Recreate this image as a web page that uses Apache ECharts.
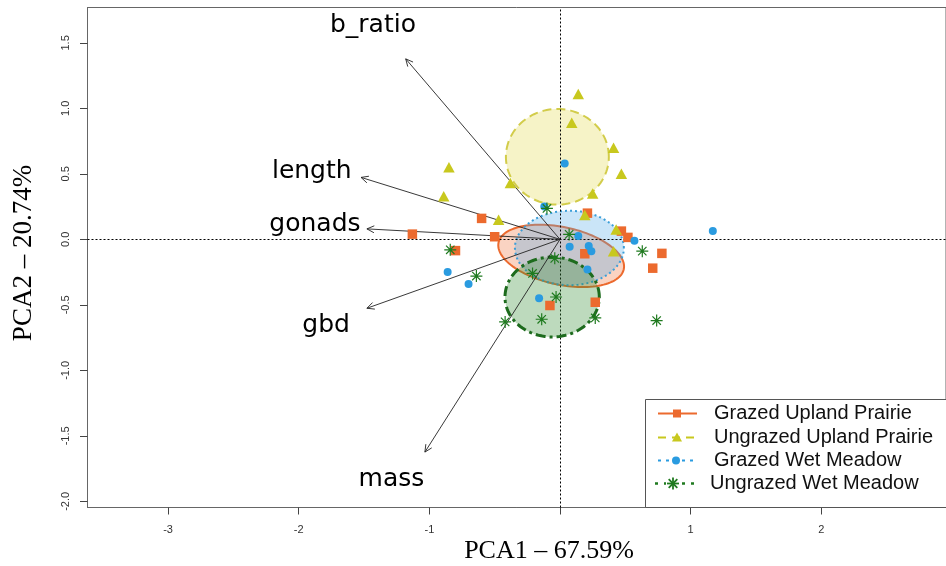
<!DOCTYPE html>
<html><head><meta charset="utf-8">
<script src="https://cdn.jsdelivr.net/npm/echarts@6/dist/echarts.min.js"></script>
<style>html,body{margin:0;padding:0;background:#fff}#c{width:946px;height:566px}</style>
</head><body><div id="c"></div>
<script>
// ---- data ----
const groups = ['Grazed Upland Prairie', 'Ungrazed Upland Prairie', 'Grazed Wet Meadow', 'Ungrazed Wet Meadow'];
const gupX = [0.21, -0.60, -1.13, -0.50, -0.80, 0.47, 0.52, 0.19, 0.78, 0.71, 0.27, -0.077];
const gupY = [0.20, 0.16, 0.04, 0.02, -0.086, 0.063, 0.015, -0.11, -0.107, -0.22, -0.48, -0.505];
const uupX = [0.14, 0.09, 0.41, 0.47, 0.25, -0.85, -0.89, -0.38, -0.47, 0.19, 0.43, 0.41];
const uupY = [1.11, 0.89, 0.70, 0.50, 0.35, 0.55, 0.33, 0.43, 0.15, 0.185, 0.076, -0.09];
const gwmX = [0.036, -0.12, 0.14, 0.074, 0.22, 0.24, 0.57, 1.17, 0.21, -0.86, -0.70, -0.16];
const gwmY = [0.58, 0.25, 0.025, -0.056, -0.05, -0.09, -0.01, 0.063, -0.23, -0.25, -0.34, -0.45];
const uwmX = [-0.10, 0.07, -0.84, 0.63, -0.04, -0.21, -0.64, -0.03, -0.42, -0.14, 0.27, 0.74];
const uwmY = [0.236, 0.038, -0.08, -0.09, -0.145, -0.26, -0.28, -0.44, -0.63, -0.61, -0.60, -0.62];

// confidence ellipses (order as groups)
const ellCx = [0.009, -0.02, 0.072, -0.06];
const ellCy = [-0.126, 0.63, -0.066, -0.44];
const ellRx = [0.49, 0.394, 0.417, 0.361];
const ellRy = [0.22, 0.365, 0.284, 0.305];
const ellAngle = [-12, 0, 0, 0];

// loadings
const loadNames = ['b_ratio', 'length', 'gonads', 'gbd', 'mass'];
const loadX = [-1.181, -1.523, -1.478, -1.478, -1.034];
const loadY = [1.378, 0.473, 0.080, -0.526, -1.624];
const loadLabelX = [-1.432, -1.90, -1.876, -1.79, -1.29];
const loadLabelY = [1.63, 0.52, 0.117, -0.66, -1.83];

const xTicks = [-3, -2, -1, 0, 1, 2];
const xTickLabels = [-3, -2, -1, 1, 2];
const yTicks = [-2, -1.5, -1, -0.5, 0, 0.5, 1, 1.5];

// ---- styles ----
const cOrange = '#ec6a2e', cYellow = '#c8c81e', cBlue = '#2a9be0', cGreen = '#1f7a1f';
const ellStyles = [
  {fill: 'rgba(238,118,66,0.32)', stroke: '#ec6a2e', lineWidth: 2, lineDash: null},
  {fill: 'rgba(224,216,70,0.30)', stroke: '#d2cc4a', lineWidth: 2, lineDash: [9, 5]},
  {fill: 'rgba(80,168,232,0.30)', stroke: '#3a9ed8', lineWidth: 2, lineDash: [2, 3]},
  {fill: 'rgba(50,140,50,0.32)', stroke: '#1d6b1d', lineWidth: 3, lineDash: [10, 4, 3, 4]}
];
const zip = (a, b) => a.map((v, i) => [v, b[i]]);
const asterisk = 'path://M10,0L10,20M0,10L20,10M3,3L17,17M3,17L17,3';

function ellipseSeries(i) {
  return {
    type: 'custom', coordinateSystem: 'cartesian2d', silent: true, z: 2 + i,
    data: [[ellCx[i], ellCy[i], ellRx[i], ellRy[i], ellAngle[i]]],
    encode: {x: 0, y: 1},
    renderItem: function (params, api) {
      const cx = api.value(0), cy = api.value(1), rx = api.value(2), ry = api.value(3);
      const a = api.value(4) * Math.PI / 180;
      const pts = [];
      for (let k = 0; k <= 120; k++) {
        const t = 2 * Math.PI * k / 120;
        const dx = rx * Math.cos(t), dy = ry * Math.sin(t);
        pts.push(api.coord([cx + dx * Math.cos(a) - dy * Math.sin(a), cy + dx * Math.sin(a) + dy * Math.cos(a)]));
      }
      const s = ellStyles[i];
      return {type: 'polygon', shape: {points: pts}, style: {fill: s.fill, stroke: s.stroke, lineWidth: s.lineWidth, lineDash: s.lineDash}};
    }
  };
}

const arrowSeries = {
  type: 'custom', coordinateSystem: 'cartesian2d', silent: true, z: 8,
  data: zip(loadX, loadY), encode: {x: 0, y: 1},
  renderItem: function (params, api) {
    const o = api.coord([0, 0]);
    const p = api.coord([api.value(0), api.value(1)]);
    const ang = Math.atan2(p[1] - o[1], p[0] - o[0]);
    const L = 8, w = Math.PI / 7;
    const h1 = [p[0] - L * Math.cos(ang - w), p[1] - L * Math.sin(ang - w)];
    const h2 = [p[0] - L * Math.cos(ang + w), p[1] - L * Math.sin(ang + w)];
    const st = {stroke: '#222', lineWidth: 0.9};
    return {type: 'group', children: [
      {type: 'line', shape: {x1: o[0], y1: o[1], x2: p[0], y2: p[1]}, style: st},
      {type: 'line', shape: {x1: p[0], y1: p[1], x2: h1[0], y2: h1[1]}, style: st},
      {type: 'line', shape: {x1: p[0], y1: p[1], x2: h2[0], y2: h2[1]}, style: st}
    ]};
  }
};

const labelSeries = {
  type: 'scatter', silent: true, z: 9, symbolSize: 1, itemStyle: {opacity: 0},
  data: loadNames.map((n, i) => ({name: n, value: [loadLabelX[i], loadLabelY[i]]})),
  label: {show: true, position: 'inside', opacity: 1, formatter: p => p.name, fontFamily: 'DejaVu Sans', fontSize: 25, color: '#000'}
};

const pointSeries = [
  {name: groups[0], type: 'scatter', z: 10, symbol: 'rect', symbolSize: 9.5, data: zip(gupX, gupY), itemStyle: {color: cOrange, opacity: 1}},
  {name: groups[1], type: 'scatter', z: 10, symbol: 'triangle', symbolSize: [11.5, 10.5], data: zip(uupX, uupY), itemStyle: {color: cYellow, opacity: 1}},
  {name: groups[2], type: 'scatter', z: 10, symbol: 'circle', symbolSize: 8, data: zip(gwmX, gwmY), itemStyle: {color: cBlue, opacity: 1}},
  {name: groups[3], type: 'scatter', z: 10, symbol: asterisk, symbolSize: 12, data: zip(uwmX, uwmY), itemStyle: {color: 'rgba(0,0,0,0)', borderColor: cGreen, borderWidth: 1.2, opacity: 1}}
];

const refLines = {
  type: 'line', data: [], silent: true, z: 1,
  markLine: {silent: true, symbol: 'none', label: {show: false},
    lineStyle: {color: '#000', type: [2, 2], width: 1},
    data: [{xAxis: 0}, {yAxis: 0}]}
};

// legend (graphic)
const legRows = [413.5, 437.5, 460.5, 483.5];
const ast = (cx, cy, r) => [[-r, 0, r, 0], [0, -r, 0, r], [-0.72 * r, -0.72 * r, 0.72 * r, 0.72 * r], [-0.72 * r, 0.72 * r, 0.72 * r, -0.72 * r]]
  .map(s => ({type: 'line', z: 103, shape: {x1: cx + s[0], y1: cy + s[1], x2: cx + s[2], y2: cy + s[3]}, style: {stroke: cGreen, lineWidth: 1.8}}));
const legGraphic = [
  {type: 'rect', shape: {x: 645.5, y: 399.5, width: 320, height: 108}, style: {fill: '#fff', stroke: '#555', lineWidth: 1}, z: 100},
  {type: 'line', shape: {x1: 658, y1: legRows[0], x2: 697, y2: legRows[0]}, style: {stroke: cOrange, lineWidth: 2}, z: 101},
  {type: 'rect', shape: {x: 673, y: legRows[0] - 4, width: 8, height: 8}, style: {fill: cOrange}, z: 102},
  {type: 'line', shape: {x1: 658, y1: legRows[1], x2: 697, y2: legRows[1]}, style: {stroke: cYellow, lineWidth: 2, lineDash: [8, 6]}, z: 101},
  {type: 'polygon', shape: {points: [[677, legRows[1] - 5], [682, legRows[1] + 4], [672, legRows[1] + 4]]}, style: {fill: cYellow}, z: 102},
  {type: 'line', shape: {x1: 658, y1: legRows[2], x2: 697, y2: legRows[2]}, style: {stroke: cBlue, lineWidth: 2, lineDash: [3, 5]}, z: 101},
  {type: 'circle', shape: {cx: 676, cy: legRows[2], r: 4}, style: {fill: cBlue}, z: 102},
  {type: 'line', shape: {x1: 655, y1: legRows[3], x2: 694, y2: legRows[3]}, style: {stroke: cGreen, lineWidth: 2.5, lineDash: [3, 6]}, z: 101},
  {type: 'rect', shape: {x: 666, y: legRows[3] - 6, width: 14, height: 12}, style: {fill: '#fff'}, z: 102},
  ...ast(673, legRows[3], 6),
  ...groups.map((g, i) => ({type: 'text', z: 102, x: i === 3 ? 710 : 714, y: legRows[i],
    style: {text: g, fontFamily: 'Liberation Sans', fontSize: 20, fill: '#111', verticalAlign: 'middle', align: 'left'}}))
];

const titles = [
  {type: 'text', x: 549, y: 551, style: {text: 'PCA1 \u2013 67.59%', fontFamily: 'Liberation Serif', fontSize: 26, fill: '#000', align: 'center', verticalAlign: 'middle'}},
  {type: 'text', x: 24, y: 253, rotation: Math.PI / 2, style: {text: 'PCA2 \u2013 20.74%', fontFamily: 'Liberation Serif', fontSize: 27, fill: '#000', align: 'center', verticalAlign: 'middle'}}
];

const chart = echarts.init(document.getElementById('c'), null, {renderer: 'canvas'});
chart.setOption({
  animation: false,
  backgroundColor: '#fff',
  grid: {left: 87.5, right: 0, top: 7.5, bottom: 58.5, show: true, borderColor: '#666', borderWidth: 1, containLabel: false},
  xAxis: {
    type: 'value', min: -3.617, max: 2.955,
    splitLine: {show: false},
    axisLine: {show: true, onZero: false, lineStyle: {color: '#666'}},
    axisTick: {show: true, inside: false, length: 7, customValues: xTicks, lineStyle: {color: '#444'}},
    axisLabel: {customValues: xTickLabels, margin: 17, fontFamily: 'Liberation Sans', fontSize: 11, color: '#333', formatter: v => String(v)}
  },
  yAxis: {
    type: 'value', min: -2.047, max: 1.770,
    splitLine: {show: false},
    axisLine: {show: true, onZero: false, lineStyle: {color: '#666'}},
    axisTick: {show: true, inside: false, length: 7.5, customValues: yTicks, lineStyle: {color: '#444'}},
    axisLabel: {customValues: yTicks, rotate: 90, align: 'center', verticalAlign: 'bottom', margin: 16, fontFamily: 'Liberation Sans', fontSize: 11, color: '#333', formatter: v => v.toFixed(1)}
  },
  graphic: [...titles, ...legGraphic],
  series: [refLines, ellipseSeries(0), ellipseSeries(1), ellipseSeries(2), ellipseSeries(3), arrowSeries, labelSeries, ...pointSeries]
});
</script>
</body></html>
